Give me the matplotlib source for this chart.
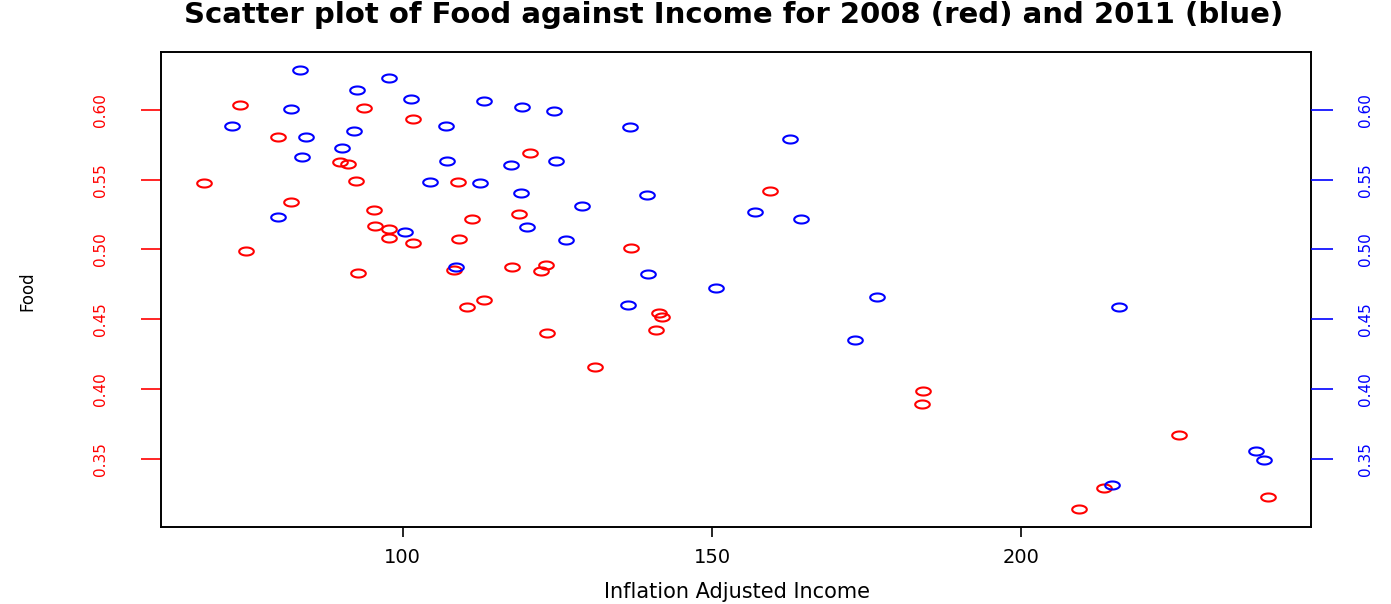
import numpy as np
import matplotlib
matplotlib.use("Agg")
import matplotlib.pyplot as plt
from matplotlib.path import Path

# Inflation adjusted income and food share, 2008 households
income_2008 = [67.80, 73.74, 74.71, 79.82, 81.99, 89.92, 91.10, 92.51, 93.69, 95.31,
               95.47, 97.85, 97.73, 92.77, 101.67, 101.67, 108.95, 109.11, 108.25, 111.17,
               110.40, 113.06, 120.60, 118.72, 117.64, 123.14, 122.28, 123.30, 131.02, 136.94,
               141.38, 141.86, 140.94, 159.34, 184.09, 183.93, 225.40, 213.32, 209.34, 239.92]
food_2008 = [0.5474, 0.6034, 0.4991, 0.5809, 0.5342, 0.5630, 0.5610, 0.5493, 0.6017, 0.5282,
             0.5167, 0.5149, 0.5079, 0.4828, 0.5935, 0.5045, 0.5486, 0.5072, 0.4856, 0.5215,
             0.4589, 0.4636, 0.5689, 0.5258, 0.4871, 0.4890, 0.4849, 0.4402, 0.4158, 0.5009,
             0.4546, 0.4519, 0.4424, 0.5421, 0.3988, 0.3894, 0.3670, 0.3289, 0.3136, 0.3225]

# Same households, 2011
income_2011 = [72.38, 79.77, 81.93, 83.33, 83.66, 84.42, 90.24, 92.07, 92.67, 97.73,
               100.32, 101.29, 104.37, 106.96, 107.12, 108.58, 112.54, 113.06, 117.43, 119.09,
               119.26, 120.02, 124.43, 124.76, 126.38, 128.96, 136.41, 136.68, 139.48, 139.69,
               150.70, 156.96, 162.51, 164.29, 173.03, 176.65, 214.61, 215.70, 237.86, 239.16]
food_2011 = [0.5888, 0.5232, 0.6005, 0.6290, 0.5660, 0.5809, 0.5725, 0.5852, 0.6146, 0.6228,
             0.5122, 0.6082, 0.5483, 0.5888, 0.5637, 0.4873, 0.5474, 0.6067, 0.5603, 0.5404,
             0.6022, 0.5160, 0.5996, 0.5632, 0.5065, 0.5309, 0.4603, 0.5878, 0.5388, 0.4821,
             0.4727, 0.5266, 0.5795, 0.5218, 0.4354, 0.4658, 0.3311, 0.4586, 0.3552, 0.3492]

x_ticks = [100, 150, 200]
y_ticks = [0.35, 0.40, 0.45, 0.50, 0.55, 0.60]
y_tick_labels = ["0.35", "0.40", "0.45", "0.50", "0.55", "0.60"]

plt.rcParams["font.family"] = ["DejaVu Sans"]

fig = plt.figure(figsize=(13.91, 6.04), dpi=100)
ax = fig.add_axes([161 / 1391, 1 - 527 / 604, (1311 - 161) / 1391, (527 - 52) / 604])

# Open, horizontally wide ring marker
theta = np.linspace(0, 2 * np.pi, 60)
ring = Path(np.column_stack([np.cos(theta), 0.55 * np.sin(theta)]), closed=True)

ax.plot(income_2008, food_2008, linestyle="none", marker=ring, markersize=10.5,
        markerfacecolor="none", markeredgecolor="#ff0000", markeredgewidth=1.5)
ax.plot(income_2011, food_2011, linestyle="none", marker=ring, markersize=10.5,
        markerfacecolor="none", markeredgecolor="#0000ff", markeredgewidth=1.5)

# R-style 4% padding around the data range
all_x = np.concatenate([income_2008, income_2011])
all_y = np.concatenate([food_2008, food_2011])
xr = all_x.max() - all_x.min()
yr = all_y.max() - all_y.min()
ax.set_xlim(all_x.min() - 0.04 * xr, all_x.max() + 0.04 * xr)
ax.set_ylim(all_y.min() - 0.04 * yr, all_y.max() + 0.04 * yr)

for s in ax.spines.values():
    s.set_color("black")
    s.set_linewidth(1.4)

ax.set_xticks(x_ticks)
ax.set_xticklabels([str(t) for t in x_ticks])
ax.tick_params(axis="x", length=7, width=1.2, color="black", pad=8, labelsize=14)

ax.set_yticks(y_ticks)
ax.set_yticklabels(y_tick_labels, rotation=90, va="center")
ax.tick_params(axis="y", length=14.5, width=1.2, color="#ff0000", labelcolor="#ff0000",
               pad=24, labelsize=11)

ax2 = ax.twinx()
ax2.set_ylim(ax.get_ylim())
ax2.set_yticks(y_ticks)
ax2.set_yticklabels(y_tick_labels, rotation=90, va="center")
ax2.tick_params(axis="y", length=15.5, width=1.2, color="#0000ff", labelcolor="#0000ff",
                pad=18, labelsize=11)
for s in ax2.spines.values():
    s.set_visible(False)

fig.text(0.5 * (133 + 1335) / 1391, 1 - 15 / 604,
         "Scatter plot of Food against Income for 2008 (red) and 2011 (blue)",
         ha="center", va="center", fontsize=21, fontweight="bold")
fig.text(737 / 1391, 1 - 592 / 604, "Inflation Adjusted Income",
         ha="center", va="center", fontsize=15)
fig.text(27 / 1391, 1 - 291 / 604, "Food", rotation=90,
         ha="center", va="center", fontsize=12)

fig.savefig("out.png", dpi=100)
